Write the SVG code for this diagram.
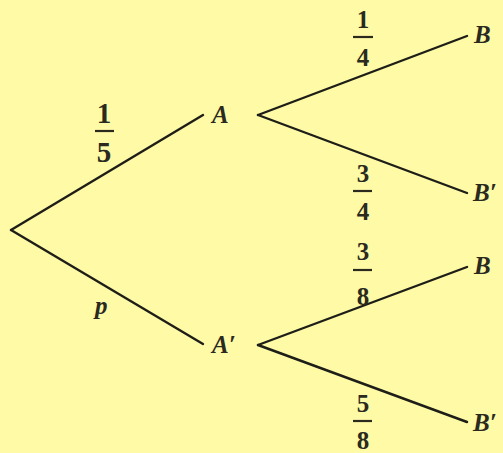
<svg xmlns="http://www.w3.org/2000/svg" width="503" height="453" viewBox="0 0 503 453">
<style>
.edge{stroke:#1e1e18;stroke-width:2.4;stroke-linecap:round;fill:none}
.lbl{font-style:italic;font-weight:bold;font-size:25px;fill:#2a2a1e}
.num{font-weight:bold;font-size:25px;fill:#2a2a1e;text-anchor:middle}
.bar{stroke:#2a2a1e;stroke-width:2.2}
</style>
<rect width="503" height="453" fill="#FFFAA6"/>
<g id="connectors">
<line class="edge" x1="11" y1="230" x2="203" y2="115"/>
<line class="edge" x1="11" y1="230" x2="203" y2="344"/>
<line class="edge" x1="258" y1="115" x2="467" y2="36"/>
<line class="edge" x1="258" y1="115" x2="467" y2="193"/>
<line class="edge" x1="258" y1="345" x2="467" y2="267"/>
<line class="edge" x1="258" y1="345" x2="467" y2="422"/>
</g>
<g font-family="Liberation Serif, Times New Roman, serif">
<g id="node-A"><text class="lbl" x="212" y="123">A</text></g>
<g id="node-A2"><text class="lbl" x="212" y="353">A′</text></g>
<g id="node-B1"><text class="lbl" x="474" y="43">B</text></g>
<g id="node-B1p"><text class="lbl" x="473" y="201">B′</text></g>
<g id="node-B2"><text class="lbl" x="474" y="274">B</text></g>
<g id="node-B2p"><text class="lbl" x="473" y="431">B′</text></g>
<g id="label-1-5">
<text class="num" style="font-size:29px" x="104" y="123">1</text>
<line class="bar" x1="95" y1="131" x2="114" y2="131"/>
<text class="num" style="font-size:29px" x="104" y="162">5</text>
</g>
<g id="label-p"><text class="lbl" x="95" y="314">p</text></g>
<g id="label-1-4">
<text class="num" x="363" y="28">1</text>
<line class="bar" x1="353" y1="37" x2="373" y2="37"/>
<text class="num" x="363" y="66">4</text>
</g>
<g id="label-3-4">
<text class="num" x="363" y="182">3</text>
<line class="bar" x1="353" y1="191" x2="372" y2="191"/>
<text class="num" x="363" y="220">4</text>
</g>
<g id="label-3-8">
<text class="num" x="363" y="260">3</text>
<line class="bar" x1="353" y1="270" x2="372" y2="270"/>
<text class="num" x="363" y="305">8</text>
</g>
<g id="label-5-8">
<text class="num" x="363" y="412">5</text>
<line class="bar" x1="353" y1="421" x2="372" y2="421"/>
<text class="num" x="363" y="449">8</text>
</g>
</g>
</svg>
